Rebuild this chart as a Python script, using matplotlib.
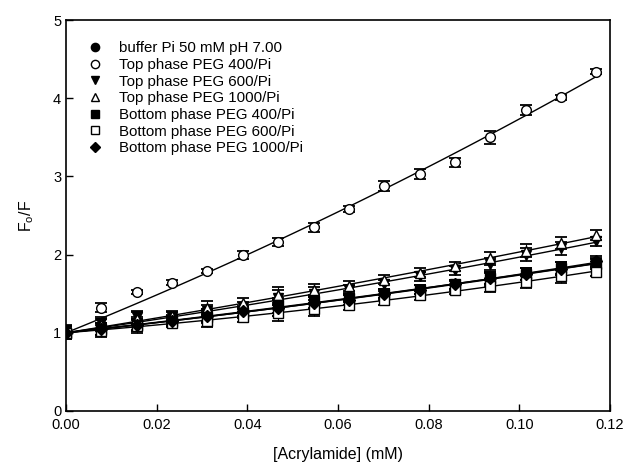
import numpy as np
import matplotlib
matplotlib.use('Agg')
import matplotlib.pyplot as plt

plt.rcParams['font.family'] = ['Liberation Sans', 'DejaVu Sans']
plt.rcParams['mathtext.default'] = 'regular'

# acrylamide concentration (mM)
conc = [0.0, 0.0078, 0.0156, 0.0234, 0.0312, 0.039, 0.0468, 0.0546,
        0.0624, 0.0702, 0.078, 0.0858, 0.0936, 0.1014, 0.1092, 0.117]

buffer_pi = [1.02, 1.05, 1.12, 1.17, 1.22, 1.27, 1.32, 1.38, 1.42, 1.48, 1.55, 1.60, 1.68, 1.75, 1.82, 1.90]
top_400   = [1.00, 1.32, 1.52, 1.64, 1.79, 1.99, 2.16, 2.35, 2.58, 2.88, 3.03, 3.18, 3.50, 3.85, 4.01, 4.34]
top_600   = [1.00, 1.12, 1.20, 1.20, 1.28, 1.33, 1.45, 1.50, 1.55, 1.62, 1.72, 1.80, 1.88, 2.00, 2.08, 2.17]
top_1000  = [1.00, 1.10, 1.18, 1.22, 1.32, 1.38, 1.48, 1.55, 1.60, 1.68, 1.77, 1.85, 1.95, 2.05, 2.15, 2.25]
bot_400   = [1.00, 1.05, 1.10, 1.15, 1.20, 1.25, 1.35, 1.40, 1.45, 1.50, 1.55, 1.62, 1.70, 1.75, 1.83, 1.88]
bot_600   = [1.00, 1.02, 1.08, 1.13, 1.15, 1.20, 1.25, 1.30, 1.35, 1.42, 1.48, 1.55, 1.60, 1.65, 1.72, 1.78]
bot_1000  = [1.00, 1.05, 1.10, 1.15, 1.22, 1.28, 1.32, 1.38, 1.42, 1.50, 1.55, 1.62, 1.70, 1.75, 1.82, 1.92]

# error bars (approx.)
err_top400 = [0.06, 0.06, 0.03, 0.03, 0.03, 0.05, 0.05, 0.06, 0.04, 0.06, 0.06, 0.06, 0.08, 0.06, 0.03, 0.03]
err_small  = [0.08, 0.08, 0.08, 0.06, 0.08, 0.06, 0.10, 0.08, 0.06, 0.06, 0.06, 0.06, 0.08, 0.08, 0.08, 0.06]

series = [
    ('buffer Pi 50 mM pH 7.00', buffer_pi, err_small, dict(marker='o', mfc='black')),
    ('Top phase PEG 400/Pi', top_400, err_top400, dict(marker='o', mfc='white')),
    ('Top phase PEG 600/Pi', top_600, err_small, dict(marker='v', mfc='black')),
    ('Top phase PEG 1000/Pi', top_1000, err_small, dict(marker='^', mfc='white')),
    ('Bottom phase PEG 400/Pi', bot_400, err_small, dict(marker='s', mfc='black')),
    ('Bottom phase PEG 600/Pi', bot_600, err_small, dict(marker='s', mfc='white')),
    ('Bottom phase PEG 1000/Pi', bot_1000, err_small, dict(marker='D', mfc='black', ms=6)),
]

fig = plt.figure(figsize=(6.23, 4.68), dpi=100)
ax = fig.add_axes([0.106, 0.122, 0.873, 0.835])

x = np.array(conc)
xx = np.linspace(0, conc[-1], 80)
for name, y, e, st in series:
    y = np.array(y)
    ms = st.pop('ms', 7)
    ax.errorbar(x, y, yerr=e, fmt='none', ecolor='black', elinewidth=0.8,
                capsize=4.5, capthick=1.3, zorder=2)
    ax.plot(x, y, ls='none', mec='black', mew=1.0, ms=ms, label=name, zorder=3, **st)
    # Stern-Volmer fit: F0/F = 1 + a*[Q] + b*[Q]^2
    A = np.column_stack([x, x ** 2])
    (a, b), *_ = np.linalg.lstsq(A, y - 1, rcond=None)
    ax.plot(xx, 1 + a * xx + b * xx ** 2, color='black', lw=1.0, zorder=2.5)

ax.set_xlim(0, 0.12)
ax.set_ylim(0, 5)
ax.set_xticks(np.arange(0, 0.121, 0.02))
ax.set_xticklabels([f'{v:.2f}' for v in np.arange(0, 0.121, 0.02)])
ax.set_yticks(range(6))
ax.tick_params(direction='in', length=5, labelsize=10.5, width=1)
ax.tick_params(axis='x', pad=5)
for sp in ax.spines.values():
    sp.set_linewidth(1.2)

ax.set_xlabel('[Acrylamide] (mM)', fontsize=11.5, labelpad=11)
ax.set_ylabel('F$_o$/F', fontsize=11.5, labelpad=12)

ax.legend(loc='upper left', frameon=False, fontsize=10.8, handlelength=1.6,
          handletextpad=0.8, labelspacing=0.18, borderaxespad=0, borderpad=0,
          markerscale=0.85, bbox_to_anchor=(0.031, 0.946))

fig.savefig('out.png', dpi=100)
